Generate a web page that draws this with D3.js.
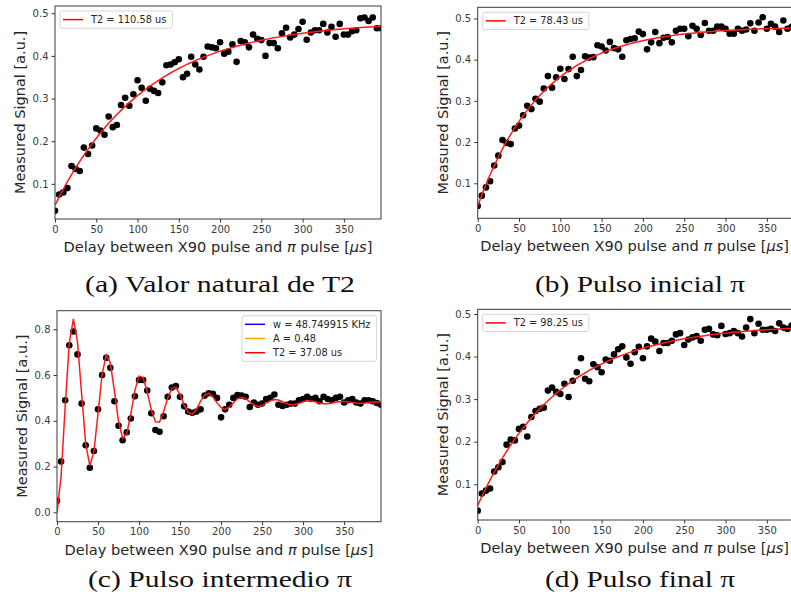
<!DOCTYPE html>
<html>
<head>
<meta charset="utf-8">
<script src="https://cdn.jsdelivr.net/npm/d3@7/dist/d3.min.js"></script>
<style>
  body { margin: 0; background: #fff; }
  svg { display: block; }
</style>
</head>
<body>
<svg id="fig" width="791" height="605"></svg>
<script>
// Delay between the X90 pulse and the pi pulse, in microseconds
const delays = [0,5,10,15,20,25,30,35,40,45,50,55,60,65,70,75,80,85,90,95,
  100,105,110,115,120,125,130,135,140,145,150,155,160,165,170,175,180,185,190,195,
  200,205,210,215,220,225,230,235,240,245,250,255,260,265,270,275,280,285,290,295,
  300,305,310,315,320,325,330,335,340,345,350,355,360,365,370,375,380,385,390,395];

// (a) natural T2
const signalNatural = [0.037,0.075,0.080,0.090,0.142,0.135,0.130,0.185,0.170,0.190,
  0.230,0.225,0.215,0.258,0.233,0.238,0.285,0.302,0.283,0.310,
  0.343,0.325,0.295,0.323,0.318,0.313,0.338,0.378,0.380,0.385,
  0.392,0.350,0.358,0.398,0.380,0.368,0.398,0.422,0.420,0.418,
  0.432,0.405,0.410,0.427,0.386,0.435,0.432,0.420,0.450,0.440,
  0.437,0.400,0.430,0.430,0.418,0.453,0.466,0.443,0.450,0.463,
  0.480,0.438,0.455,0.460,0.460,0.475,0.455,0.468,0.445,0.475,
  0.450,0.450,0.458,0.460,0.488,0.490,0.482,0.490,0.465,0.465];

// (b) initial pi pulse
const signalInitial = [0.045,0.070,0.090,0.105,0.143,0.167,0.205,0.198,0.195,0.233,
  0.240,0.265,0.288,0.280,0.305,0.298,0.330,0.360,0.332,0.357,
  0.378,0.353,0.377,0.407,0.360,0.375,0.408,0.405,0.406,0.435,
  0.432,0.422,0.443,0.428,0.425,0.407,0.447,0.450,0.452,0.468,
  0.462,0.425,0.442,0.467,0.440,0.453,0.455,0.442,0.470,0.475,
  0.475,0.457,0.482,0.475,0.460,0.489,0.470,0.470,0.480,0.480,
  0.475,0.463,0.463,0.475,0.470,0.473,0.488,0.470,0.490,0.503,
  0.475,0.487,0.480,0.467,0.495,0.475,0.480,0.462,0.470,0.480];

// (c) intermediate pi pulse
const signalIntermediate = [0.050,0.222,0.490,0.730,0.790,0.690,0.475,0.293,0.195,0.268,
  0.450,0.600,0.675,0.632,0.485,0.378,0.315,0.350,0.410,0.507,
  0.578,0.578,0.532,0.433,0.360,0.352,0.420,0.505,0.545,0.552,
  0.505,0.463,0.440,0.435,0.440,0.450,0.510,0.520,0.518,0.500,
  0.415,0.450,0.470,0.500,0.512,0.510,0.505,0.460,0.480,0.470,
  0.475,0.495,0.500,0.515,0.470,0.465,0.470,0.475,0.475,0.490,
  0.495,0.505,0.495,0.500,0.485,0.505,0.495,0.490,0.500,0.505,
  0.480,0.490,0.495,0.480,0.475,0.490,0.490,0.485,0.478,0.470];

// (d) final pi pulse
const signalFinal = [0.038,0.078,0.085,0.090,0.130,0.140,0.152,0.193,0.205,0.203,
  0.230,0.235,0.212,0.258,0.272,0.277,0.280,0.320,0.327,0.317,
  0.312,0.336,0.305,0.343,0.363,0.396,0.348,0.342,0.382,0.375,
  0.363,0.393,0.390,0.405,0.417,0.424,0.398,0.383,0.410,0.423,
  0.396,0.424,0.442,0.435,0.413,0.432,0.432,0.437,0.452,0.455,
  0.427,0.440,0.445,0.448,0.437,0.463,0.465,0.452,0.450,0.472,
  0.453,0.455,0.460,0.455,0.447,0.468,0.488,0.455,0.477,0.463,
  0.463,0.465,0.460,0.478,0.468,0.465,0.473,0.466,0.470,0.470];

// Fitted parameters per panel: (a), (b), (c), (d)
const fitT2 = [110.58, 78.43, 37.08, 98.25];      // us
const fitPlateau = [0.4816, 0.480, 0.48, 0.475];  // a.u.
const fitStart = [0.050, 0.045, 0.0, 0.050];      // a.u. at t = 0
const ramseyW = 48.749915;                        // KHz

const xTicks = [0, 50, 100, 150, 200, 250, 300, 350];
const yTicksSmall = [0.1, 0.2, 0.3, 0.4, 0.5];
const yTicksLarge = [0.0, 0.2, 0.4, 0.6, 0.8];

const captions = ["(a) Valor natural de T2", "(b) Pulso inicial \u03c0",
                  "(c) Pulso intermedio \u03c0", "(d) Pulso final \u03c0"];

// Exponential recovery model used for the T2 fits
const expFit = i => t => fitPlateau[i] - (fitPlateau[i] - fitStart[i]) * Math.exp(-t / fitT2[i]);
// Damped oscillation model (Ramsey-like) for panel (c)
const oscFit = t => fitPlateau[2] * (1 - Math.exp(-t / (2 * fitT2[2])) * Math.cos(Math.PI * ramseyW * 1e-3 * t));

const panels = [
  { box: [55, 6, 381, 219], ydom: [0.0176, 0.517], yt: yTicksSmall, y: signalNatural, fit: expFit(0),
    legend: [{ c: "red", t: "T2 = " + fitT2[0].toFixed(2) + " us" }], legPos: "left",
    cap: captions[0], capX: 220, capY: 292, capW: 270 },
  { box: [477.7, 7.3, 804, 218.3], ydom: [0.015, 0.527], yt: yTicksSmall, y: signalInitial, fit: expFit(1),
    legend: [{ c: "red", t: "T2 = " + fitT2[1].toFixed(2) + " us" }], legPos: "left",
    cap: captions[1], capX: 640, capY: 292, capW: 210 },
  { box: [57, 310.7, 381, 521.7], ydom: [-0.041, 0.881], yt: yTicksLarge, y: signalIntermediate, fit: oscFit,
    legend: [{ c: "blue", t: "w = " + ramseyW.toFixed(6) + " KHz" },
             { c: "orange", t: "A = " + fitPlateau[2].toFixed(2) },
             { c: "red", t: "T2 = " + fitT2[2].toFixed(2) + " us" }], legPos: "right",
    cap: captions[2], capX: 220, capY: 587, capW: 264 },
  { box: [477.7, 309.3, 804, 520], ydom: [0.016, 0.511], yt: yTicksSmall, y: signalFinal, fit: expFit(3),
    legend: [{ c: "red", t: "T2 = " + fitT2[3].toFixed(2) + " us" }], legPos: "left",
    cap: captions[3], capX: 640, capY: 587, capW: 190 }
];

const svg = d3.select("#fig");
const svgWidth = +svg.attr("width");
const sansFont = "'DejaVu Sans', sans-serif";
const serifFont = "'Liberation Serif', 'DejaVu Serif', serif";

panels.forEach((p, i) => {
  const [x0, y0, x1, y1] = p.box;
  const x = d3.scaleLinear().domain([0, 395]).range([x0, x1]);
  const y = d3.scaleLinear().domain(p.ydom).range([y1, y0]);
  const g = svg.append("g");

  const clipId = "clip" + i;
  svg.append("clipPath").attr("id", clipId)
    .append("rect").attr("x", x0).attr("y", y0).attr("width", x1 - x0).attr("height", y1 - y0);

  const plot = g.append("g").attr("clip-path", `url(#${clipId})`);

  // measured points
  plot.selectAll("circle").data(delays).join("circle")
    .attr("cx", d => x(d))
    .attr("cy", (d, k) => y(p.y[k]))
    .attr("r", 3.3)
    .attr("fill", "#000");

  // fitted curve, evaluated on the delay grid
  const line = d3.line().x(d => x(d)).y(d => y(p.fit(d)));
  plot.append("path").datum(delays)
    .attr("d", line)
    .attr("fill", "none")
    .attr("stroke", "#ff1a1a")
    .attr("stroke-width", 1.5);

  // axes
  const ax = g.append("g").attr("transform", `translate(0,${y1})`)
    .call(d3.axisBottom(x).tickValues(xTicks).tickSize(3.5).tickPadding(3).tickSizeOuter(0));
  const ay = g.append("g").attr("transform", `translate(${x0},0)`)
    .call(d3.axisLeft(y).tickValues(p.yt).tickFormat(d3.format(".1f")).tickSize(3.5).tickPadding(3).tickSizeOuter(0));
  [ax, ay].forEach(a => {
    a.select(".domain").remove();
    a.selectAll("line").attr("stroke", "#333");
    a.selectAll("text").attr("font-family", sansFont).attr("font-size", 10).attr("fill", "#3a3a3a");
  });

  // frame
  g.append("rect").attr("x", x0).attr("y", y0).attr("width", x1 - x0).attr("height", y1 - y0)
    .attr("fill", "none").attr("stroke", "#3a3a3a").attr("stroke-width", 1);

  // axis labels
  const xl = g.append("text")
    .attr("x", (x0 + x1) / 2).attr("y", y1 + 33)
    .attr("text-anchor", "middle")
    .attr("font-family", sansFont).attr("font-size", 14.6).attr("fill", "#262626");
  xl.append("tspan").text("Delay between X90 pulse and ");
  xl.append("tspan").attr("font-style", "italic").text("\u03c0");
  xl.append("tspan").text(" pulse [");
  xl.append("tspan").attr("font-style", "italic").text("\u03bcs");
  xl.append("tspan").text("]");
  // keep the label inside the figure's right edge
  const xlBox = xl.node().getBBox();
  const overflow = xlBox.x + xlBox.width - (svgWidth - 2);
  if (overflow > 0) xl.attr("x", (x0 + x1) / 2 - overflow);

  g.append("text")
    .attr("transform", `translate(${x0 - 30},${(y0 + y1) / 2}) rotate(-90)`)
    .attr("text-anchor", "middle")
    .attr("font-family", sansFont).attr("font-size", 14.5).attr("fill", "#262626")
    .text("Measured Signal [a.u.]");

  // legend
  const leg = g.append("g");
  const rowH = 14.2;
  const boxH = p.legend.length * rowH + 3;
  const items = leg.selectAll("g.item").data(p.legend).join("g").attr("class", "item");
  const texts = items.append("text")
    .attr("font-family", sansFont).attr("font-size", 9.8).attr("fill", "#262626")
    .text(d => d.t);
  let maxW = 0;
  texts.each(function () { maxW = Math.max(maxW, this.getComputedTextLength()); });
  const boxW = 31 + maxW + 6;
  const bx = p.legPos === "left" ? x0 + 5 : x1 - 4.5 - boxW;
  const by = y0 + 5;
  leg.insert("rect", ":first-child")
    .attr("x", bx).attr("y", by).attr("width", boxW).attr("height", boxH)
    .attr("rx", 2).attr("fill", "#fff").attr("fill-opacity", 0.85)
    .attr("stroke", "#d6d6d6").attr("stroke-width", 1);
  items.each(function (d, k) {
    const cy = by + 1.5 + rowH / 2 + k * rowH;
    const it = d3.select(this);
    it.append("line").attr("x1", bx + 3).attr("x2", bx + 23).attr("y1", cy).attr("y2", cy)
      .attr("stroke", d.c).attr("stroke-width", 1.5);
    it.select("text").attr("x", bx + 31).attr("y", cy + 3.5);
  });

  // caption
  svg.append("text")
    .attr("x", p.capX).attr("y", p.capY)
    .attr("text-anchor", "middle")
    .attr("font-family", serifFont).attr("font-size", 23).attr("fill", "#111")
    .attr("textLength", p.capW).attr("lengthAdjust", "spacingAndGlyphs")
    .text(p.cap);
});
</script>
</body>
</html>
